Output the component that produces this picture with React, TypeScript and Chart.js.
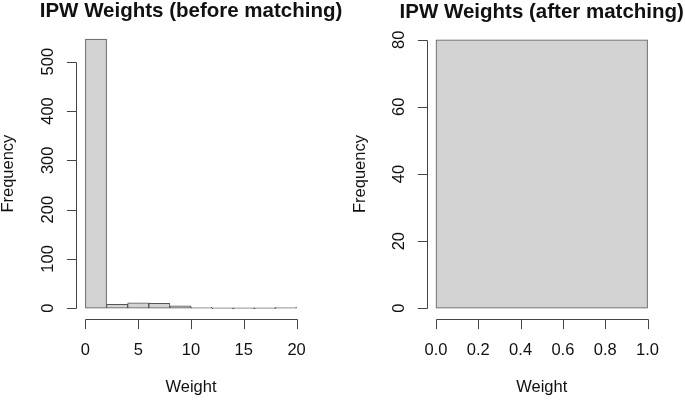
import React, { useEffect, useRef } from "react";
import { Chart, registerables } from "chart.js";

Chart.register(...registerables);

// ---------- data ----------
const beforeTitle = "IPW Weights (before matching)";
const beforeBreaks = [0, 2, 4, 6, 8, 10, 12, 14, 16, 18, 20];
const beforeCounts = [546, 8, 11, 10, 5, 1, 0, 0, 0, 1];
const beforeXTicks = [0, 5, 10, 15, 20];
const beforeXTickLabels = ["0", "5", "10", "15", "20"];
const beforeYTicks = [0, 100, 200, 300, 400, 500];
const beforeYTickLabels = ["0", "100", "200", "300", "400", "500"];

const afterTitle = "IPW Weights (after matching)";
const afterBreaks = [0, 1];
const afterCounts = [80];
const afterXTicks = [0, 0.2, 0.4, 0.6, 0.8, 1];
const afterXTickLabels = ["0.0", "0.2", "0.4", "0.6", "0.8", "1.0"];
const afterYTicks = [0, 20, 40, 60, 80];
const afterYTickLabels = ["0", "20", "40", "60", "80"];

const xAxisLabel = "Weight";
const yAxisLabel = "Frequency";

// ---------- styles ----------
const FONT = "'Liberation Sans', Arial, sans-serif";
const TEXT = "#111";
const LINE = "#444";
const FILL = "#d3d3d3";
const EDGE = "#555";
const H = 400;

const rAxesPlugin = {
  id: "rAxes",
  afterLayout(chart: any) {
    const tb = chart.titleBlock;
    const a = chart.chartArea;
    if (tb && a) {
      const cx = (a.left + a.right) / 2;
      tb.left = cx - 250;
      tb.right = cx + 250;
      tb.width = 500;
    }
  },
  afterDraw(chart: any) {
    const { ctx, chartArea: a, scales } = chart;
    const xs = scales.x;
    const ys = scales.y;
    const tl = 9.6;
    ctx.save();
    ctx.strokeStyle = LINE;
    ctx.lineWidth = 1;
    ctx.beginPath();
    const yb = Math.round(a.bottom) + 0.5;
    const xt = xs.ticks.map((t: any) => Math.round(xs.getPixelForValue(t.value)) + 0.5);
    ctx.moveTo(xt[0], yb);
    ctx.lineTo(xt[xt.length - 1], yb);
    xt.forEach((x: number) => {
      ctx.moveTo(x, yb);
      ctx.lineTo(x, yb + tl);
    });
    const xl = Math.round(a.left) - 0.5;
    const yt = ys.ticks.map((t: any) => Math.round(ys.getPixelForValue(t.value)) + 0.5);
    ctx.moveTo(xl, yt[0]);
    ctx.lineTo(xl, yt[yt.length - 1]);
    yt.forEach((y: number) => {
      ctx.moveTo(xl, y);
      ctx.lineTo(xl - tl, y);
    });
    ctx.stroke();
    ctx.restore();
  },
};

type PanelProps = {
  title: string;
  breaks: number[];
  counts: number[];
  xTicks: number[];
  xTickLabels: string[];
  yTicks: number[];
  yTickLabels: string[];
  left: number;
  width: number;
  padL: number;
  padR: number;
  yAxisWidth: number;
  yTickPad: number;
  yTitlePad: number;
};

function HistPanel(p: PanelProps) {
  const ref = useRef<HTMLCanvasElement | null>(null);
  useEffect(() => {
    if (!ref.current) return;
    const centers = p.counts.map((_, i) => (p.breaks[i] + p.breaks[i + 1]) / 2);
    const xMin = p.breaks[0];
    const xMax = p.breaks[p.breaks.length - 1];
    const xPad = (xMax - xMin) * 0.04;
    const yMax = Math.max(...p.counts);
    const yPad = yMax * 0.04;
    const tickFont = { family: FONT, size: 16.5 };
    const chart = new Chart(ref.current, {
      type: "bar",
      data: {
        datasets: [
          {
            data: centers.map((c, i) => ({ x: c, y: p.counts[i] })),
            xAxisID: "xb",
            yAxisID: "y",
            backgroundColor: FILL,
            borderColor: EDGE,
            borderWidth: 1,
            borderSkipped: false,
            barPercentage: 1,
            categoryPercentage: 1,
            minBarLength: 1,
          } as any,
        ],
      },
      options: {
        responsive: false,
        maintainAspectRatio: false,
        animation: false,
        devicePixelRatio: 1,
        layout: { padding: { left: p.padL, right: p.padR, top: 0, bottom: 0 } },
        plugins: {
          legend: { display: false },
          tooltip: { enabled: false },
          title: {
            display: true,
            text: p.title,
            color: TEXT,
            font: { family: FONT, size: 20.5, weight: "bold", lineHeight: 1 },
            padding: { top: 1, bottom: 6.75 },
          },
        },
        scales: {
          xb: {
            type: "linear",
            display: false,
            offset: false,
            min: xMin - xPad,
            max: xMax + xPad,
            ticks: { display: false },
            afterBuildTicks: (s: any) => {
              s.ticks = p.breaks.map((v) => ({ value: v }));
            },
          },
          x: {
            type: "linear",
            position: "bottom",
            offset: false,
            min: xMin - xPad,
            max: xMax + xPad,
            grid: { display: false, drawTicks: false },
            border: { display: false },
            afterBuildTicks: (s: any) => {
              s.ticks = p.xTicks.map((v) => ({ value: v }));
            },
            afterFit: (s: any) => {
              s.height = H - 319;
            },
            ticks: {
              autoSkip: false,
              maxRotation: 0,
              padding: 22,
              color: TEXT,
              font: tickFont,
              callback: (_v: any, i: number) => p.xTickLabels[i],
            },
            title: {
              display: true,
              text: xAxisLabel,
              color: TEXT,
              font: { family: FONT, size: 16.5, lineHeight: 1 },
              padding: { top: 0, bottom: 4 },
            },
          },
          y: {
            type: "linear",
            position: "left",
            min: -yPad,
            max: yMax + yPad,
            grid: { display: false, drawTicks: false },
            border: { display: false },
            afterBuildTicks: (s: any) => {
              s.ticks = p.yTicks.map((v) => ({ value: v }));
            },
            afterFit: (s: any) => {
              s.width = p.yAxisWidth;
            },
            ticks: {
              autoSkip: false,
              minRotation: 90,
              maxRotation: 90,
              crossAlign: "center",
              padding: p.yTickPad,
              color: TEXT,
              font: tickFont,
              callback: (_v: any, i: number) => p.yTickLabels[i],
            },
            title: {
              display: true,
              text: yAxisLabel,
              color: TEXT,
              font: { family: FONT, size: 16.5, lineHeight: 1 },
              padding: { top: p.yTitlePad, bottom: 0 },
            },
          },
        } as any,
      },
      plugins: [rAxesPlugin],
    });
    return () => chart.destroy();
  }, []);
  return (
    <canvas
      ref={ref}
      width={p.width}
      height={H}
      style={{ position: "absolute", left: p.left, top: 0, width: p.width, height: H }}
    />
  );
}

export default function App() {
  return (
    <div style={{ position: "absolute", left: 0, top: 0, width: 685, height: H, background: "#fff" }}>
      <HistPanel
        title={beforeTitle}
        breaks={beforeBreaks}
        counts={beforeCounts}
        xTicks={beforeXTicks}
        xTickLabels={beforeXTickLabels}
        yTicks={beforeYTicks}
        yTickLabels={beforeYTickLabels}
        left={0}
        width={342}
        padL={0}
        padR={37}
        yAxisWidth={77}
        yTickPad={14.6}
        yTitlePad={0.5}
      />
      <HistPanel
        title={afterTitle}
        breaks={afterBreaks}
        counts={afterCounts}
        xTicks={afterXTicks}
        xTickLabels={afterXTickLabels}
        yTicks={afterYTicks}
        yTickLabels={afterYTickLabels}
        left={342}
        width={343}
        padL={10.5}
        padR={29}
        yAxisWidth={75}
        yTickPad={19.1}
        yTitlePad={0}
      />
    </div>
  );
}
